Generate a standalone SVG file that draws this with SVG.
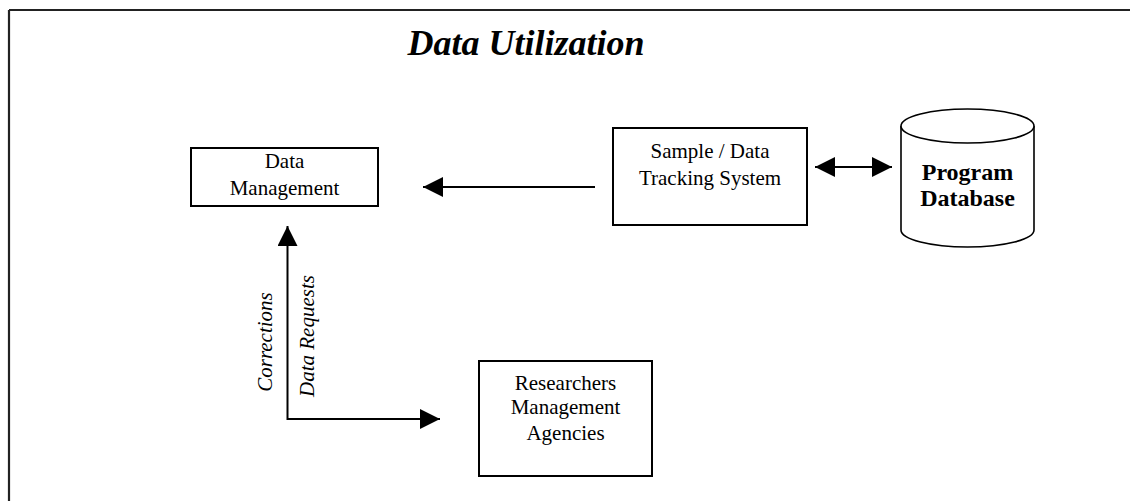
<svg xmlns="http://www.w3.org/2000/svg" width="1130" height="501" viewBox="0 0 1130 501">
  <defs>
    <style>
      .box { fill: #fff; stroke: #000; stroke-width: 2; }
      .lbl { font-family: "Liberation Serif", "Times New Roman", serif; font-size: 21px; fill: #000; text-anchor: middle; }
      .bold { font-weight: bold; font-size: 24px; }
      .ital { font-style: italic; }
      .wire { fill: none; stroke: #000; stroke-width: 2; }
    </style>
    <marker id="head" viewBox="0 0 20 20" refX="20" refY="10" markerWidth="20" markerHeight="20" markerUnits="userSpaceOnUse" orient="auto-start-reverse">
      <path d="M0,0 L20,10 L0,20 Z" fill="#000"/>
    </marker>
  </defs>

  <!-- page frame: top and left rules -->
  <path d="M9,10 H1130 M9,10 V501" fill="none" stroke="#222" stroke-width="2.2"/>

  <text x="526" y="55" font-family="Liberation Serif, 'Times New Roman', serif" font-size="36" font-weight="bold" font-style="italic" text-anchor="middle" fill="#000">Data Utilization</text>

  <g id="data-management">
    <rect class="box" x="191" y="148" width="187" height="58"/>
    <text class="lbl" x="284.5" y="168">Data</text>
    <text class="lbl" x="284.5" y="195">Management</text>
  </g>

  <g id="tracking-system">
    <rect class="box" x="613" y="128" width="194" height="97"/>
    <text class="lbl" x="710" y="158">Sample / Data</text>
    <text class="lbl" x="710" y="185">Tracking System</text>
  </g>

  <g id="program-database">
    <path d="M901,126 V230 A66.5,17 0 0 0 1034,230 V126" fill="#fff" stroke="#000" stroke-width="1.6"/>
    <ellipse cx="967.5" cy="126" rx="66.5" ry="17" fill="#fff" stroke="#000" stroke-width="1.6"/>
    <text class="lbl bold" x="967.5" y="180">Program</text>
    <text class="lbl bold" x="967.5" y="206">Database</text>
  </g>

  <g id="researchers">
    <rect class="box" x="479" y="361" width="173" height="115"/>
    <text class="lbl" x="565.5" y="390">Researchers</text>
    <text class="lbl" x="565.5" y="414">Management</text>
    <text class="lbl" x="565.5" y="440">Agencies</text>
  </g>

  <g id="connectors">
    <line class="wire" x1="595" y1="187" x2="423" y2="187" marker-end="url(#head)"/>
    <line class="wire" x1="815" y1="167" x2="892" y2="167" marker-start="url(#head)" marker-end="url(#head)"/>
    <path class="wire" d="M287.5,226 V419 H440" marker-start="url(#head)" marker-end="url(#head)"/>
    <text class="lbl ital" transform="translate(272,342) rotate(-90)">Corrections</text>
    <text class="lbl ital" transform="translate(314,336) rotate(-90)">Data Requests</text>
  </g>
</svg>
